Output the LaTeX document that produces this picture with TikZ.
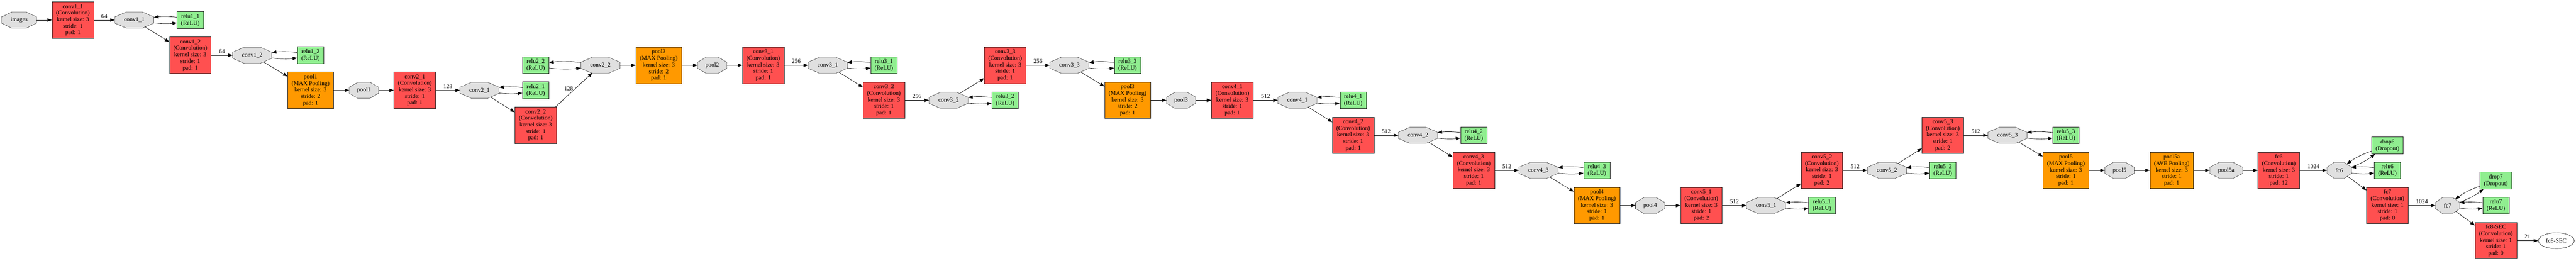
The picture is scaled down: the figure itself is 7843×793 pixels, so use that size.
\documentclass[tikz,border=0pt]{standalone}
\usepackage{fontspec}
\setmainfont{Liberation Serif}
\usetikzlibrary{arrows.meta,shapes.geometric,calc,backgrounds}

\begin{document}
\begin{tikzpicture}[x=0.5pt,y=-0.5pt,line width=0.55pt,
        >={Triangle[length=7pt,width=5pt]},
        font=\fontsize{9.05}{9.96}\selectfont,
        capa/.style={draw=black!85,align=center,inner xsep=6pt,inner ysep=1pt,minimum height=55.5pt},
        conv/.style={capa,fill=rojo},
        pool/.style={capa,fill=naranja},
        relu/.style={capa,fill=verde,minimum height=25.5pt},
        blob/.style={ellipse,inner sep=0pt,minimum height=24pt,minimum width=#1},
        blob/.default=59pt,
        lbl/.style={midway,above,inner sep=2.5pt}]
        %colores
        \definecolor{rojo}{HTML}{FF5050}
        \definecolor{naranja}{HTML}{FF9900}
        \definecolor{verde}{HTML}{90EE90}
        \definecolor{gris}{HTML}{E0E0E0}

        \useasboundingbox (0,0) rectangle (7843,793);

        % capas de convolucion
        \foreach \nom/\txt/\xx/\yy/\ks/\pd in {conv11/conv1\_1/222/61/3/1, conv12/conv1\_2/579.5/168/3/1,
            conv21/conv2\_1/1263/274.5/3/1, conv22/conv2\_2/1631/381/3/1,
            conv31/conv3\_1/2324/198.5/3/1, conv32/conv3\_2/2691/305/3/1, conv33/conv3\_3/3060.5/198.5/3/1,
            conv41/conv4\_1/3752/305/3/1, conv42/conv4\_2/4120/411.5/3/1, conv43/conv4\_3/4487/518/3/1,
            conv51/conv5\_1/5180/625/3/2, conv52/conv5\_2/5547/518/3/2, conv53/conv5\_3/5915/411.5/3/2,
            fc6/fc6/6938/518/3/12, fc7/fc7/7269/625/1/0, fc8/fc8-SEC/7599/731.5/1/0}
        \node[conv] (\nom) at (\xx,\yy) {\txt\\(Convolution)\\kernel size: \ks\\stride: 1\\pad: \pd};

        % pooling
        \foreach \nom/\txt/\xx/\yy/\tp/\st in {pool1/pool1/945.5/274.5/MAX/2, pool2/pool2/2005.5/198.5/MAX/2,
            pool3/pool3/3433/305/MAX/2, pool4/pool4/4862/625/MAX/1, pool5/pool5/6290/518/MAX/1,
            pool5a/pool5a/6612/518/AVE/1}
        \node[pool] (\nom) at (\xx,\yy) {\txt\\(\tp{} Pooling)\\kernel size: 3\\stride: \st\\pad: 1};

        % relu y dropout
        \foreach \nom/\txt/\xx/\yy/\tp in {relu11/relu1\_1/579.5/61/ReLU, relu12/relu1\_2/945.5/168/ReLU,
            relu21/relu2\_1/1631/274.5/ReLU, relu22/relu2\_2/1631/198.5/ReLU,
            relu31/relu3\_1/2691/198.5/ReLU, relu32/relu3\_2/3060.5/305/ReLU, relu33/relu3\_3/3433/198.5/ReLU,
            relu41/relu4\_1/4120/305/ReLU, relu42/relu4\_2/4487/411.5/ReLU, relu43/relu4\_3/4862/518/ReLU,
            relu51/relu5\_1/5547/625/ReLU, relu52/relu5\_2/5915/518/ReLU, relu53/relu5\_3/6290/411.5/ReLU,
            relu6/relu6/7269/518/ReLU, drop6/drop6/7269/442.5/Dropout,
            relu7/relu7/7599/625/ReLU, drop7/drop7/7599/549/Dropout}
        \node[relu] (\nom) at (\xx,\yy) {\txt\\(\tp)};

        % blobs
        \foreach \nom/\txt/\xx/\yy/\ww in {images/images/58/61/53pt, conv11o/conv1\_1/409/61/59pt,
            conv12o/conv1\_2/768/168/59pt, pool1o/pool1/1108/274.5/44pt,
            conv21o/conv2\_1/1460/274.5/59pt, conv22o/conv2\_2/1828/198.5/59pt, pool2o/pool2/2168.5/198.5/44pt,
            conv31o/conv3\_1/2520/198.5/59pt, conv32o/conv3\_2/2888/305/59pt, conv33o/conv3\_3/3256/198.5/59pt,
            pool3o/pool3/3596/305/44pt, conv41o/conv4\_1/3950/305/59pt, conv42o/conv4\_2/4317/411.5/59pt,
            conv43o/conv4\_3/4684/518/59pt, pool4o/pool4/5024/625/44pt, conv51o/conv5\_1/5377/625/59pt,
            conv52o/conv5\_2/5745/518/59pt, conv53o/conv5\_3/6112/411.5/59pt, pool5o/pool5/6453/518/44pt,
            pool5ao/pool5a/6778/518/49.5pt, fc6o/fc6/7122/518/36.5pt, fc7o/fc7/7452/625/36.5pt}
        \node[blob=\ww] (\nom) at (\xx,\yy) {\txt};
        \node[ellipse,draw=black!85,fill=white,inner sep=0pt,minimum width=54.5pt,minimum height=24pt] (fc8o) at (7783,732) {fc8-SEC};

        % octogonos detras
        \begin{scope}[on background layer]
            \foreach \nom in {images,conv11o,conv12o,pool1o,conv21o,conv22o,pool2o,conv31o,conv32o,conv33o,
                pool3o,conv41o,conv42o,conv43o,pool4o,conv51o,conv52o,conv53o,pool5o,pool5ao,fc6o,fc7o}
            \filldraw[fill=gris,draw=black!85]
                ($(\nom.north)!.41!(\nom.north -| \nom.east)$) -- ($(\nom.east)!.38!(\nom.north -| \nom.east)$)
                -- ($(\nom.east)!.38!(\nom.south -| \nom.east)$) -- ($(\nom.south)!.41!(\nom.south -| \nom.east)$)
                -- ($(\nom.south)!.41!(\nom.south -| \nom.west)$) -- ($(\nom.west)!.38!(\nom.south -| \nom.west)$)
                -- ($(\nom.west)!.38!(\nom.north -| \nom.west)$) -- ($(\nom.north)!.41!(\nom.north -| \nom.west)$) -- cycle;
        \end{scope}

        % flechas
        \foreach \a/\b in {images/conv11, conv11o/conv12, conv12o/pool1, pool1/pool1o, pool1o/conv21,
            conv21o/conv22, conv22o/pool2, pool2/pool2o, pool2o/conv31, conv31o/conv32, conv32o/conv33,
            conv33o/pool3, pool3/pool3o, pool3o/conv41, conv41o/conv42, conv42o/conv43, conv43o/pool4,
            pool4/pool4o, pool4o/conv51, conv51o/conv52, conv52o/conv53, conv53o/pool5, pool5/pool5o,
            pool5o/pool5a, pool5a/pool5ao, pool5ao/fc6, fc6o/fc7, fc7o/fc8}
        \draw[->] (\a) -- (\b);
        \foreach \a/\b/\num in {conv11/conv11o/64, conv12/conv12o/64, conv21/conv21o/128,
            conv31/conv31o/256, conv32/conv32o/256, conv33/conv33o/256, conv41/conv41o/512,
            conv42/conv42o/512, conv43/conv43o/512, conv51/conv51o/512, conv52/conv52o/512,
            conv53/conv53o/512, fc6/fc6o/1024, fc7/fc7o/1024, fc8/fc8o/21}
        \draw[->] (\a) -- node[lbl] {\num} (\b);
        \draw[->] (conv22) -- node[midway,left,inner sep=1pt,yshift=2pt] {128} (conv22o);

        % relu en el sitio
        \foreach \o/\r in {conv11o/relu11, conv12o/relu12, conv21o/relu21, conv31o/relu31, conv32o/relu32,
            conv33o/relu33, conv41o/relu41, conv42o/relu42, conv43o/relu43, conv51o/relu51,
            conv52o/relu52, conv53o/relu53, fc6o/relu6, fc7o/relu7}
        {
            \draw[->] ([yshift=4.25pt]\r.west) to[bend right=6] ([yshift=4.25pt]\o.east);
            \draw[->] ([yshift=-4.25pt]\o.east) to[bend right=6] ([yshift=-4.25pt]\r.west);
        }
        \draw[->] ([yshift=4.25pt]conv22o.west) to[bend right=6] ([yshift=4.25pt]relu22.east);
        \draw[->] ([yshift=-4.25pt]relu22.east) to[bend right=6] ([yshift=-4.25pt]conv22o.west);
        \foreach \o/\d in {fc6o/drop6, fc7o/drop7}
        {
            \draw[->] ([yshift=4.5pt]\d.south west) to[bend right=8] (\o.40);
            \draw[->] ([yshift=5pt]\o.east) to[bend right=8] ([xshift=5.5pt]\d.south west);
        }
    \end{tikzpicture}
\end{document}
